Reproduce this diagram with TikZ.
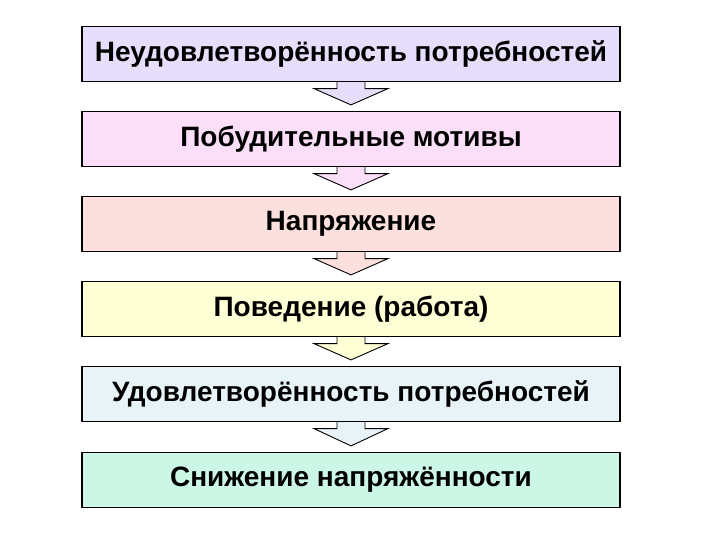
\documentclass[tikz,border=0pt]{standalone}
\usepackage{fontspec}
\setmainfont{Liberation Sans}
\usetikzlibrary{calc}
\definecolor{lav}{RGB}{230,222,251}
\definecolor{pnk}{RGB}{251,222,247}
\definecolor{sal}{RGB}{252,224,221}
\definecolor{ylw}{RGB}{255,255,214}
\definecolor{lbl}{RGB}{231,243,246}
\definecolor{mnt}{RGB}{204,246,229}
\tikzstyle{box}=[draw=black, line width=1.2pt, minimum width=538pt, minimum height=55pt, inner sep=0pt, font=\fontsize{28}{32}\selectfont\bfseries]
\tikzstyle{harrow}=[draw=black, line width=0.9pt, line join=miter]

\begin{document}
\begin{tikzpicture}[x=1pt, y=1pt]

      \useasboundingbox (0,0) rectangle (720,540);

      \node[box, fill=lav] (need)   at (351,486)   {Неудовлетворённость потребностей};
      \node[box, fill=pnk] (motive) at (351,401)   {Побудительные мотивы};
      \node[box, fill=sal] (strain) at (351,316)   {Напряжение};
      \node[box, fill=ylw] (work)   at (351,231)   {Поведение (работа)};
      \node[box, fill=lbl] (satis)  at (351,146)   {Удовлетворённость потребностей};
      \node[box, fill=mnt] (relief) at (351,60)    {Снижение напряжённости};

      % arrows between the boxes
      \foreach \a/\b/\c in {need/motive/lav, motive/strain/pnk, strain/work/sal,
                            work/satis/ylw, satis/relief/lbl}
        \path[harrow, fill=\c] ($(\a.south)+(-14,0)$) -- ++(0,-6.5) -- ++(-23,0)
              -- ($(\b.north)+(0,6)$) -- ($(\a.south)+(37,-6.5)$) -- ++(-23,0)
              -- ($(\a.south)+(14,0)$);

    \end{tikzpicture}
\end{document}
